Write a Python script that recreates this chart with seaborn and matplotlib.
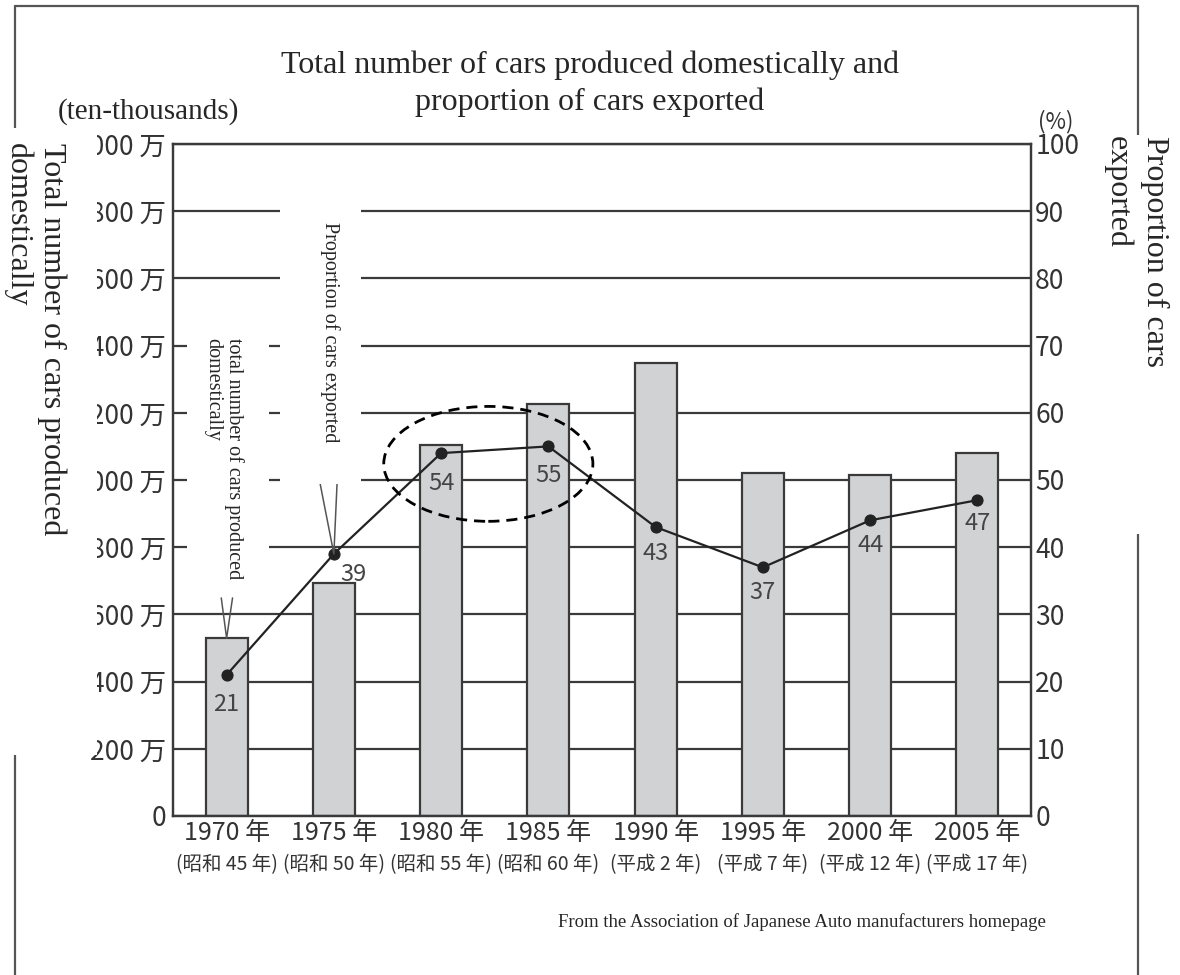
import numpy as np
import pandas as pd
import matplotlib
matplotlib.use("Agg")
import matplotlib.pyplot as plt
import matplotlib.transforms as mtransforms
from matplotlib.patches import Rectangle, Ellipse
from matplotlib.lines import Line2D
import seaborn as sns

# --- data ---
years = ["1970", "1975", "1980", "1985", "1990", "1995", "2000", "2005"]
year_labels = ["1970 年", "1975 年", "1980 年", "1985 年",
               "1990 年", "1995 年", "2000 年", "2005 年"]
era_labels = ["(昭和 45 年)", "(昭和 50 年)", "(昭和 55 年)", "(昭和 60 年)",
              "(平成 2 年)", "(平成 7 年)", "(平成 12 年)", "(平成 17 年)"]
production = [529, 694, 1104, 1227, 1349, 1020, 1014, 1080]   # 万台
export_share = [21, 39, 54, 55, 43, 37, 44, 47]                 # %
left_ticks = [0, 200, 400, 600, 800, 1000, 1200, 1400, 1600, 1800, 2000]
left_tick_labels = ["0", "200 万", "400 万", "600 万", "800 万", "1000 万",
                    "1200 万", "1400 万", "1600 万", "1800 万", "2000 万"]
right_ticks = [0, 10, 20, 30, 40, 50, 60, 70, 80, 90, 100]
right_tick_labels = ["0", "10", "20", "30", "40", "50", "60", "70", "80", "90", "100"]

df = pd.DataFrame({"year": years, "production": production, "share": export_share})

# --- style ---
sns.set_style("white")
plt.rcParams["font.family"] = ["Liberation Serif", "DejaVu Serif"]
JP = ["Noto Sans CJK JP", "DejaVu Sans"]
DARK = "#3a3a3a"
TXT = "#333333"
BAR = "#d1d2d4"

W, H = 1180, 975
fig = plt.figure(figsize=(11.8, 9.75), dpi=100)


def fx(x):
    return x / W


def fy(y):
    return 1 - y / H


ax = fig.add_axes([fx(173), fy(816), fx(1031) - fx(173), fy(144) - fy(816)])

# bars: total production
sns.barplot(data=df, x="year", y="production", ax=ax, color=BAR, saturation=1,
            edgecolor=DARK, linewidth=1.6, width=0.39)
ax.set_xlim(-0.5, len(years) - 0.5)
ax.set_ylim(0, 2000)
ax.set_yticks(left_ticks)
ax.set_yticklabels(left_tick_labels, family=JP, fontsize=19, color=TXT)
ax.yaxis.grid(True, color=DARK, lw=1.6)
ax.set_axisbelow(True)
ax.set_xlabel("")
ax.set_ylabel("")
ax.set_xticks(range(len(years)))
ax.set_xticklabels(year_labels, family=JP, fontsize=18, color=TXT)
ax.tick_params(axis="both", length=0)
ax.tick_params(axis="y", pad=5)
ax.tick_params(axis="x", pad=3)

# second row of x labels (Japanese era years)
trans = mtransforms.blended_transform_factory(ax.transData, fig.transFigure)
for i, lab in enumerate(era_labels):
    ax.text(i, fy(865), lab, transform=trans, ha="center", va="center",
            family=JP, fontsize=14, color=TXT)

# line: export share
ax2 = ax.twinx()
sns.lineplot(x=np.arange(len(years)), y=export_share, ax=ax2, color="#222222",
             lw=1.6, marker="o", markersize=8, markeredgecolor="#222222")
ax2.set_xlim(-0.5, len(years) - 0.5)
ax2.set_ylim(0, 100)
ax2.set_yticks(right_ticks)
ax2.set_yticklabels(right_tick_labels, family=JP, fontsize=19, color=TXT)
ax2.tick_params(axis="y", length=0, pad=3)
ax2.set_ylabel("")

for a in (ax, ax2):
    for s in a.spines.values():
        s.set_color(DARK)
        s.set_linewidth(1.6)

label_offsets = [(0, -21), (14, -15), (0, -22), (0, -21),
                 (0, -19), (0, -18), (0, -18), (0, -17)]
for i, v in enumerate(export_share):
    ax2.annotate(str(v), (i, v), xytext=label_offsets[i], textcoords="offset points",
                 ha="center", va="center", family=JP, fontsize=17, color="#444444")

# dashed ellipse around 1980-1985
ax2.add_patch(Ellipse((2.44, 52.4), 1.95, 17.1, fill=False, ec="black",
                      lw=2, ls=(0, (4, 2.5)), zorder=5))

# leader marks of the callouts
b0 = production[0]
ax.plot([-0.05, 0, 0.055], [b0 + 120, b0, b0 + 120], color="#555555", lw=1.1, zorder=4)
p1 = export_share[1]
ax2.plot([1 - 0.31, 1 - 0.13, 1, 1 + 0.03, 1 + 0.08],
         [p1 + 10.9, p1 + 10.6, p1, p1 + 10.6, p1 + 10.9], color="#555555", lw=1.1, zorder=4)

# --- outer frame and white cover boxes ---
frame_kw = dict(color="#555555", lw=1.6, transform=fig.transFigure, zorder=1)
fig.add_artist(Line2D([fx(15), fx(1138)], [fy(6), fy(6)], **frame_kw))
fig.add_artist(Line2D([fx(15), fx(15)], [fy(6), 0], **frame_kw))
fig.add_artist(Line2D([fx(1138), fx(1138)], [fy(6), 0], **frame_kw))

for (x0, y0, x1, y1) in [(0, 128, 97, 755), (1097, 135, 1180, 534),
                         (280, 180, 361, 484), (187, 325, 269, 597)]:
    fig.add_artist(Rectangle((fx(x0), fy(y1)), fx(x1) - fx(x0), fy(y0) - fy(y1),
                             facecolor="white", edgecolor="none",
                             transform=fig.transFigure, zorder=2))

# --- texts ---
fig.text(0.5, fy(73), "Total number of cars produced domestically and",
         ha="center", va="baseline", fontsize=23, zorder=3)
fig.text(0.5, fy(110), "proportion of cars exported",
         ha="center", va="baseline", fontsize=23, zorder=3)
fig.text(fx(58), fy(119), "(ten-thousands)", ha="left", va="baseline",
         fontsize=21, zorder=3)
fig.text(fx(1056), fy(122), "(%)", ha="center", va="center", family=JP,
         fontsize=16, color=TXT, zorder=3)

fig.text(fx(52), fy(143), "Total number of cars produced", rotation=270,
         ha="center", va="top", fontsize=23, zorder=3)
fig.text(fx(18), fy(143), "domestically", rotation=270,
         ha="center", va="top", fontsize=23, zorder=3)
fig.text(fx(1155), fy(136), "Proportion of cars", rotation=270,
         ha="center", va="top", fontsize=23, zorder=3)
fig.text(fx(1118), fy(136), "exported", rotation=270,
         ha="center", va="top", fontsize=23, zorder=3)

fig.text(fx(330), fy(222), "Proportion of cars exported", rotation=270,
         ha="center", va="top", fontsize=14.5, zorder=3)
fig.text(fx(234), fy(338), "total number of cars produced", rotation=270,
         ha="center", va="top", fontsize=14.5, zorder=3)
fig.text(fx(213), fy(338), "domestically", rotation=270,
         ha="center", va="top", fontsize=14.5, zorder=3)

fig.text(fx(558), fy(927), "From the Association of Japanese Auto manufacturers homepage",
         ha="left", va="baseline", fontsize=13.5, zorder=3)

fig.savefig("out.png", dpi=100, facecolor="white")
